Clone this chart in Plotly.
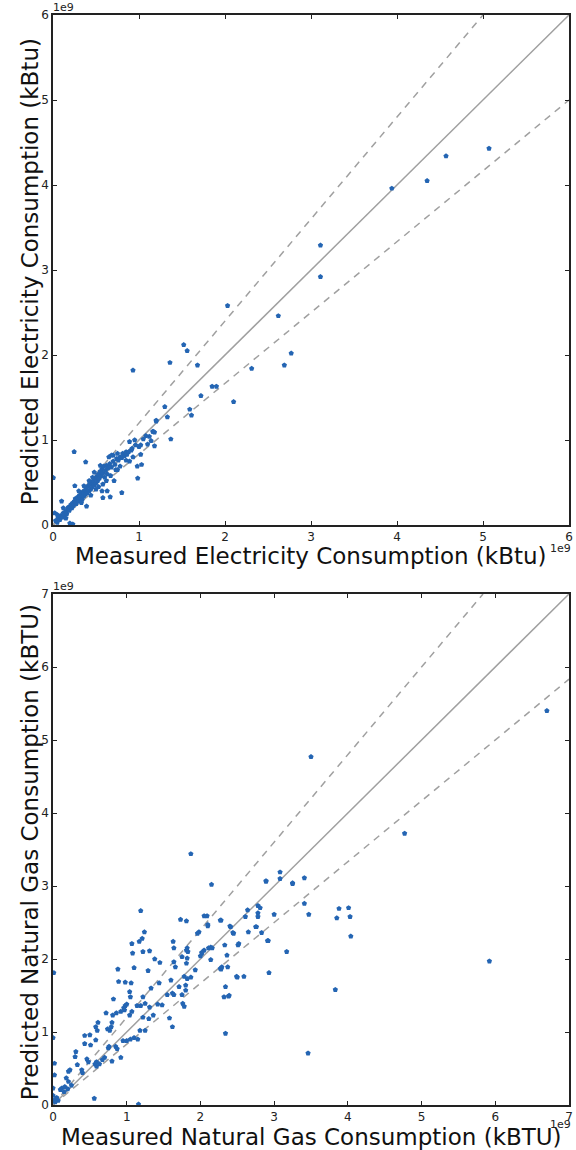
import plotly.graph_objects as go

# ---------------- data (values in units of 1e9 kBtu) ----------------
elec_measured = [
    5.07, 4.57, 4.35, 3.94, 3.11, 3.11, 2.62, 2.03, 2.77, 2.69, 2.31, 2.10,
    1.52, 1.56, 1.68, 1.85, 1.90, 1.72, 1.59, 1.61,
    1.36, 0.93, 1.30, 1.33, 1.20, 1.37, 1.165,
    0.246, 0.38, 0.10, 0.254, 0.39, 0.196, 0.23, 0.004, 0.02,
    0.58, 0.665, 0.57, 0.63, 0.80, 0.71, 0.985, 0.98, 1.03, 0.89, 0.78, 0.73,
    0.65, 0.70, 0.75, 0.81, 0.85, 0.91,
    0.89, 0.95, 1.00, 1.02, 1.10, 1.14, 1.18, 1.12, 1.16, 1.18, 1.02, 1.20,
    0.03, 0.05, 0.06, 0.08, 0.09, 0.11, 0.12, 0.13, 0.15, 0.16, 0.17, 0.18,
    0.19, 0.20, 0.21, 0.22, 0.23, 0.24, 0.25, 0.26, 0.27, 0.28, 0.29, 0.30,
    0.31, 0.32, 0.33, 0.34, 0.35, 0.36, 0.37, 0.38, 0.39, 0.40, 0.41, 0.42,
    0.43, 0.44, 0.45, 0.46, 0.47, 0.48, 0.49, 0.50, 0.51, 0.52, 0.53, 0.54,
    0.55, 0.56, 0.57, 0.58, 0.59, 0.60, 0.61, 0.62, 0.63, 0.64, 0.66, 0.68,
    0.70, 0.72, 0.74, 0.76, 0.78, 0.80, 0.83, 0.86, 0.88, 0.92, 0.96, 1.05, 1.08,
    0.44, 0.50, 0.46, 0.53, 0.36, 0.42, 0.30, 0.33, 0.55, 0.48, 0.62, 0.67,
    0.58, 0.12, 0.15, 0.05, 0.68, 0.75, 0.85, 0.93,
]
elec_predicted = [
    4.43, 4.34, 4.05, 3.96, 3.29, 2.92, 2.46, 2.58, 2.02, 1.88, 1.84, 1.45,
    2.12, 2.05, 1.88, 1.63, 1.63, 1.52, 1.36, 1.29,
    1.91, 1.82, 1.39, 1.27, 1.23, 1.01, 1.10,
    0.862, 0.74, 0.28, 0.46, 0.22, 0.02, 0.01, 0.556, 0.14,
    0.32, 0.33, 0.40, 0.40, 0.38, 0.52, 0.55, 0.69, 0.71, 0.75, 0.69, 0.65,
    0.80, 0.82, 0.84, 0.84, 0.86, 0.88,
    0.98, 1.00, 0.92, 0.94, 0.95, 0.99, 0.93, 1.04, 1.10, 1.09, 0.83, 1.22,
    0.05, 0.03, 0.08, 0.06, 0.11, 0.09, 0.14, 0.12, 0.16, 0.13, 0.19, 0.21,
    0.17, 0.22, 0.24, 0.20, 0.26, 0.23, 0.28, 0.31, 0.25, 0.30, 0.33, 0.28,
    0.35, 0.32, 0.37, 0.30, 0.39, 0.34, 0.41, 0.36, 0.43, 0.38, 0.46, 0.40,
    0.48, 0.42, 0.50, 0.45, 0.52, 0.47, 0.55, 0.49, 0.57, 0.52, 0.60, 0.55,
    0.63, 0.58, 0.66, 0.61, 0.69, 0.56, 0.64, 0.70, 0.60, 0.67, 0.72, 0.68,
    0.75, 0.71, 0.78, 0.76, 0.80, 0.79, 0.81, 0.83, 0.86, 0.90, 0.94, 1.01, 1.05,
    0.35, 0.42, 0.56, 0.45, 0.46, 0.52, 0.40, 0.26, 0.70, 0.62, 0.52, 0.58,
    0.48, 0.20, 0.08, 0.12, 0.82, 0.65, 0.76, 0.80,
]

gas_measured = [
    3.50, 4.77, 5.92, 3.83, 3.46, 6.70,
    2.15, 3.08, 2.89, 3.25, 3.41, 3.41, 3.47, 3.88, 4.01, 3.85, 4.03, 4.04, 3.17, 2.93, 2.92,
    2.78, 2.81, 2.78, 2.78, 2.64, 2.61, 3.00, 2.75, 2.83, 2.65, 2.52, 2.40, 2.44, 2.28, 2.09, 2.10, 1.98,
    2.33, 2.36, 2.14, 2.05, 2.02, 2.14, 2.28, 2.37, 2.50, 2.59, 2.34, 2.32, 2.39, 2.34,
    1.87, 1.19, 1.73, 1.81, 1.24, 1.21, 1.17, 1.07, 1.08, 1.22, 1.31, 1.38, 1.45, 1.10, 0.88, 1.29,
    0.89, 0.98, 1.06, 1.33, 1.44, 1.04, 1.05, 0.82, 1.22, 1.19, 1.14, 0.98, 0.96, 1.00, 0.97, 1.25,
    1.31, 1.36, 1.48, 0.92, 0.86, 0.81, 1.07, 1.04, 0.72, 0.80, 0.79, 0.61, 0.58, 0.74, 0.77, 0.43,
    0.50, 0.60, 0.58, 0.43, 0.51, 0.31, 0.30, 0.46, 0.48, 0.59, 0.59, 0.63, 0.57, 0.39, 0.33, 0.23,
    0.21, 0.18, 0.21, 0.12, 0.16, 0.10, 0.05, 0.07, 0.03, 0.01, 0.02, 0.02, 0.00, 0.00, 0.56, 1.16,
    1.93, 1.87, 1.82, 1.78, 1.80, 1.71, 1.80, 1.75, 1.76, 1.78, 1.62, 1.64, 1.55, 1.58, 1.62, 1.60,
    1.64, 1.66, 1.63, 1.64, 1.82, 1.81, 1.83, 1.75, 1.96, 1.82, 1.81, 2.00, 2.02, 2.11, 2.16, 2.10,
    2.05, 2.27, 2.27, 2.29, 2.38, 2.49, 2.51, 2.45, 2.41, 2.76, 2.89, 2.91, 3.08, 3.25,
    0.85, 0.75, 0.70, 0.80, 0.92, 1.00, 1.05, 1.10, 0.95, 1.15, 1.25, 1.22, 1.30, 1.42, 0.87, 0.76,
    0.67, 0.40, 0.25, 0.20, 0.15, 0.02, 0.00, 1.18,
]
gas_predicted = [
    4.77, 3.72, 1.97, 1.58, 0.71, 5.40,
    3.02, 3.19, 3.07, 3.03, 3.11, 2.76, 2.61, 2.69, 2.70, 2.56, 2.58, 2.31, 2.10, 1.81, 2.25,
    2.73, 2.70, 2.63, 2.58, 2.67, 2.58, 2.61, 2.44, 2.36, 2.37, 2.21, 2.45, 2.36, 2.53, 2.59, 2.45, 2.37,
    2.19, 2.05, 2.16, 2.12, 2.08, 1.99, 1.86, 1.89, 1.75, 1.76, 1.62, 1.48, 1.50, 0.98,
    3.44, 2.66, 2.54, 2.52, 2.37, 2.28, 2.24, 2.21, 2.08, 2.10, 2.11, 2.00, 1.95, 1.88, 1.86, 1.84,
    1.69, 1.68, 1.67, 1.60, 1.67, 1.55, 1.48, 1.45, 1.48, 1.36, 1.36, 1.36, 1.33, 1.38, 1.30, 1.39,
    1.34, 1.23, 1.37, 1.28, 1.26, 1.23, 1.28, 1.23, 1.26, 1.13, 1.07, 1.13, 1.07, 1.04, 1.02, 0.95,
    0.96, 1.02, 0.89, 0.84, 0.82, 0.73, 0.66, 0.63, 0.59, 0.59, 0.53, 0.56, 0.56, 0.48, 0.55, 0.48,
    0.46, 0.37, 0.32, 0.23, 0.25, 0.21, 0.10, 0.06, 0.04, 1.81, 0.57, 0.41, 0.23, 0.92, 0.09, 0.01,
    1.85, 1.75, 1.73, 1.76, 1.64, 1.62, 1.57, 1.51, 1.39, 1.35, 1.53, 1.51, 1.51, 1.19, 1.07, 1.71,
    1.96, 1.89, 2.24, 2.15, 2.15, 2.12, 2.10, 2.03, 2.35, 2.01, 1.94, 2.04, 2.09, 2.15, 2.15, 2.47,
    2.59, 2.53, 1.87, 1.89, 1.49, 1.76, 2.19, 2.35, 2.44, 2.44, 3.06, 2.25, 3.10, 3.04,
    0.80, 0.78, 0.65, 0.60, 0.65, 0.88, 0.90, 0.92, 0.88, 0.90, 1.02, 1.20, 1.18, 1.38, 0.77, 0.80,
    0.62, 0.44, 0.27, 0.22, 0.18, 0.07, 0.13, 1.02,
]

elec_max = 6
gas_max = 7
elec_ticks = [0, 1, 2, 3, 4, 5, 6]
gas_ticks = [0, 1, 2, 3, 4, 5, 6, 7]
band = 1.2  # dashed reference lines: y = 1.2x and y = x/1.2

MARKER_COLOR = "#2465b3"
LINE_COLOR = "#a0a0a0"

fig = go.Figure()


def add_panel(xs, ys, vmax, xa, ya):
    # reference lines
    fig.add_trace(go.Scatter(x=[0, vmax], y=[0, vmax], mode="lines",
                             line=dict(color=LINE_COLOR, width=1.5),
                             xaxis=xa, yaxis=ya, showlegend=False, hoverinfo="skip"))
    fig.add_trace(go.Scatter(x=[0, vmax / band], y=[0, vmax], mode="lines",
                             line=dict(color=LINE_COLOR, width=1.5, dash="7px,6px"),
                             xaxis=xa, yaxis=ya, showlegend=False, hoverinfo="skip"))
    fig.add_trace(go.Scatter(x=[0, vmax], y=[0, vmax / band], mode="lines",
                             line=dict(color=LINE_COLOR, width=1.5, dash="7px,6px"),
                             xaxis=xa, yaxis=ya, showlegend=False, hoverinfo="skip"))
    fig.add_trace(go.Scatter(x=xs, y=ys, mode="markers",
                             marker=dict(symbol="pentagon", size=5.5, color=MARKER_COLOR,
                                         line=dict(width=0)),
                             xaxis=xa, yaxis=ya, showlegend=False))


add_panel(elec_measured, elec_predicted, elec_max, "x", "y")
add_panel(gas_measured, gas_predicted, gas_max, "x2", "y2")

# layout geometry (pixels)
W, H = 576, 1150
ML, MR, MT, MB = 53, 3, 15, 45
PH = H - MT - MB
top_dom = [(H - MB - 525) / PH, 1.0]
bot_dom = [0.0, (H - MB - 594) / PH]

axis_common = dict(showgrid=False, zeroline=False, showline=True, linecolor="#222",
                   linewidth=1.5, mirror="ticks", ticks="inside", ticklen=4,
                   tickcolor="#222", tickwidth=1,
                   tickfont=dict(family="DejaVu Sans", size=12, color="#222"))

fig.update_layout(
    width=W, height=H,
    margin=dict(l=ML, r=MR, t=MT, b=MB),
    paper_bgcolor="white", plot_bgcolor="white",
    xaxis=dict(axis_common, range=[0, elec_max], tickvals=elec_ticks, anchor="y",
               domain=[0, 1]),
    yaxis=dict(axis_common, range=[0, elec_max], tickvals=elec_ticks, anchor="x",
               domain=top_dom),
    xaxis2=dict(axis_common, range=[0, gas_max], tickvals=gas_ticks, anchor="y2",
                domain=[0, 1]),
    yaxis2=dict(axis_common, range=[0, gas_max], tickvals=gas_ticks, anchor="x2",
                domain=bot_dom),
)


def px_x(p):
    return (p - ML) / (W - ML - MR)


def px_y(p):
    return (H - MB - p) / PH


title_font = dict(family="DejaVu Sans", size=23, color="#111")
small_font = dict(family="DejaVu Sans", size=11, color="#222")

annots = [
    dict(text="Predicted Electricity Consumption (kBtu)", x=px_x(30), y=px_y(272),
         textangle=-90, font=title_font),
    dict(text="Measured Electricity Consumption (kBtu)", x=px_x(313), y=px_y(556),
         font=title_font),
    dict(text="Predicted Natural Gas Consumption (kBTU)", x=px_x(30), y=px_y(852),
         textangle=-90, font=title_font),
    dict(text="Measured Natural Gas Consumption (kBTU)", x=px_x(313), y=px_y(1137),
         font=title_font),
    dict(text="1e9", x=px_x(64), y=px_y(7), font=small_font),
    dict(text="1e9", x=px_x(564), y=px_y(548), font=small_font),
    dict(text="1e9", x=px_x(64), y=px_y(587), font=small_font),
    dict(text="1e9", x=px_x(564), y=px_y(1125), font=small_font),
]
for a in annots:
    fig.add_annotation(xref="paper", yref="paper", showarrow=False,
                       xanchor="center", yanchor="middle", **a)

fig.write_html("out.html",
               config={"displayModeBar": False},
               post_script="document.body.style.margin='0';"
                           "document.body.style.overflow='hidden';")
